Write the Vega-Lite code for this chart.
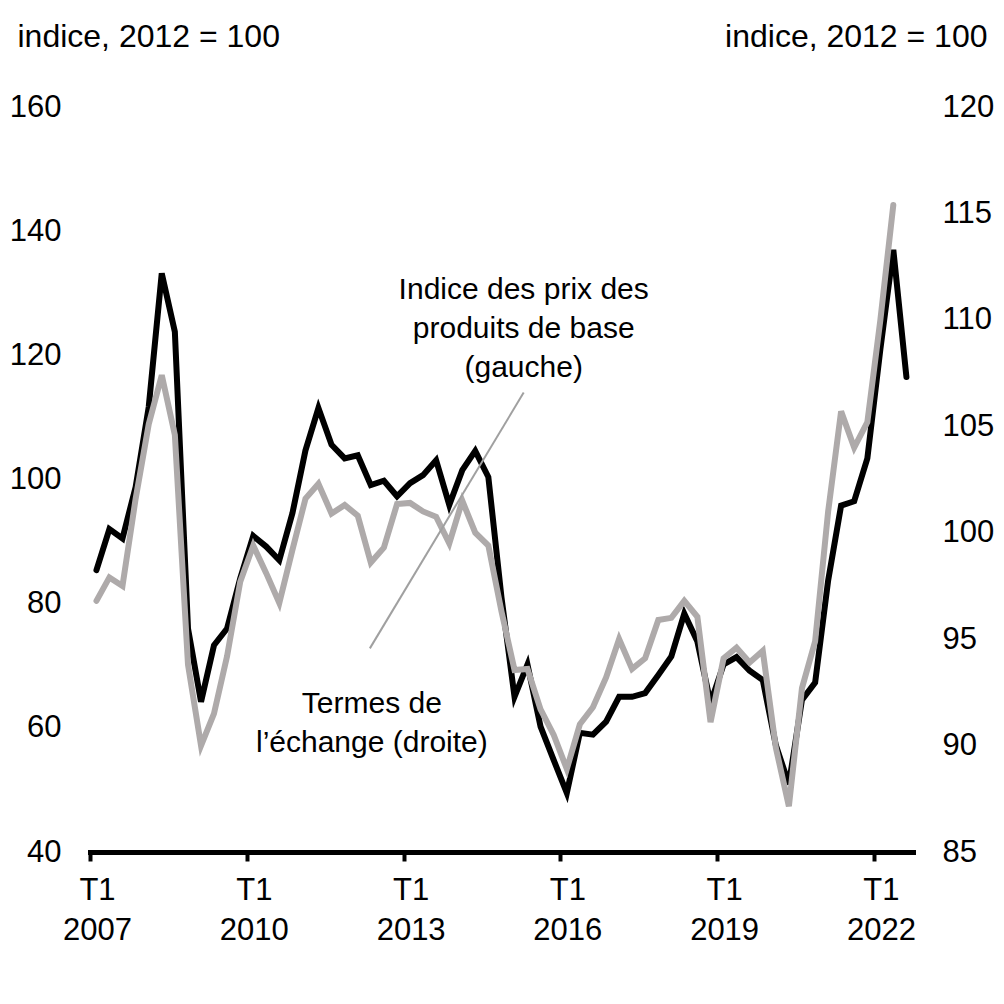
{
  "$schema": "https://vega.github.io/schema/vega-lite/v6.json",
  "width": 823,
  "height": 745,
  "autosize": "none",
  "padding": {"left": 90, "top": 107, "right": 91, "bottom": 152},
  "background": "white",
  "config": {
    "view": {"stroke": null},
    "font": "Liberation Sans",
    "axis": {"labelFont": "Liberation Sans", "titleFont": "Liberation Sans", "grid": false}
  },
  "datasets": {
    "series": [
      {"trimestre": "2007-01-01", "bcpi": 85.4, "tdt": 96.8},
      {"trimestre": "2007-04-01", "bcpi": 92.0, "tdt": 97.9},
      {"trimestre": "2007-07-01", "bcpi": 90.5, "tdt": 97.5},
      {"trimestre": "2007-10-01", "bcpi": 98.8, "tdt": 101.6},
      {"trimestre": "2008-01-01", "bcpi": 111.7, "tdt": 105.1},
      {"trimestre": "2008-04-01", "bcpi": 133.2, "tdt": 107.4},
      {"trimestre": "2008-07-01", "bcpi": 123.8, "tdt": 104.6},
      {"trimestre": "2008-10-01", "bcpi": 76.0, "tdt": 93.8},
      {"trimestre": "2009-01-01", "bcpi": 64.2, "tdt": 90.0},
      {"trimestre": "2009-04-01", "bcpi": 73.3, "tdt": 91.5},
      {"trimestre": "2009-07-01", "bcpi": 76.0, "tdt": 94.2},
      {"trimestre": "2009-10-01", "bcpi": 84.1, "tdt": 97.7},
      {"trimestre": "2010-01-01", "bcpi": 90.9, "tdt": 99.4},
      {"trimestre": "2010-04-01", "bcpi": 89.2, "tdt": 98.1},
      {"trimestre": "2010-07-01", "bcpi": 87.0, "tdt": 96.7},
      {"trimestre": "2010-10-01", "bcpi": 94.6, "tdt": 99.2},
      {"trimestre": "2011-01-01", "bcpi": 104.7, "tdt": 101.6},
      {"trimestre": "2011-04-01", "bcpi": 111.5, "tdt": 102.3},
      {"trimestre": "2011-07-01", "bcpi": 105.6, "tdt": 100.9},
      {"trimestre": "2011-10-01", "bcpi": 103.4, "tdt": 101.3},
      {"trimestre": "2012-01-01", "bcpi": 103.9, "tdt": 100.8},
      {"trimestre": "2012-04-01", "bcpi": 99.1, "tdt": 98.6},
      {"trimestre": "2012-07-01", "bcpi": 99.8, "tdt": 99.3},
      {"trimestre": "2012-10-01", "bcpi": 97.3, "tdt": 101.35},
      {"trimestre": "2013-01-01", "bcpi": 99.4, "tdt": 101.4},
      {"trimestre": "2013-04-01", "bcpi": 100.7, "tdt": 101.0},
      {"trimestre": "2013-07-01", "bcpi": 103.1, "tdt": 100.75},
      {"trimestre": "2013-10-01", "bcpi": 95.9, "tdt": 99.5},
      {"trimestre": "2014-01-01", "bcpi": 101.5, "tdt": 101.5},
      {"trimestre": "2014-04-01", "bcpi": 104.6, "tdt": 100.0},
      {"trimestre": "2014-07-01", "bcpi": 100.4, "tdt": 99.4},
      {"trimestre": "2014-10-01", "bcpi": 81.0, "tdt": 96.3},
      {"trimestre": "2015-01-01", "bcpi": 65.0, "tdt": 93.55},
      {"trimestre": "2015-04-01", "bcpi": 70.2, "tdt": 93.6},
      {"trimestre": "2015-07-01", "bcpi": 60.2, "tdt": 91.7},
      {"trimestre": "2015-10-01", "bcpi": 54.8, "tdt": 90.5},
      {"trimestre": "2016-01-01", "bcpi": 49.5, "tdt": 88.9},
      {"trimestre": "2016-04-01", "bcpi": 59.2, "tdt": 91.0},
      {"trimestre": "2016-07-01", "bcpi": 58.9, "tdt": 91.8},
      {"trimestre": "2016-10-01", "bcpi": 61.0, "tdt": 93.2},
      {"trimestre": "2017-01-01", "bcpi": 65.0, "tdt": 95.0},
      {"trimestre": "2017-04-01", "bcpi": 65.0, "tdt": 93.6},
      {"trimestre": "2017-07-01", "bcpi": 65.6, "tdt": 94.1},
      {"trimestre": "2017-10-01", "bcpi": 68.5, "tdt": 95.9},
      {"trimestre": "2018-01-01", "bcpi": 71.5, "tdt": 96.0},
      {"trimestre": "2018-04-01", "bcpi": 78.4, "tdt": 96.8},
      {"trimestre": "2018-07-01", "bcpi": 73.9, "tdt": 96.05},
      {"trimestre": "2018-10-01", "bcpi": 64.0, "tdt": 91.1},
      {"trimestre": "2019-01-01", "bcpi": 70.2, "tdt": 94.1},
      {"trimestre": "2019-04-01", "bcpi": 71.4, "tdt": 94.6},
      {"trimestre": "2019-07-01", "bcpi": 69.2, "tdt": 93.9},
      {"trimestre": "2019-10-01", "bcpi": 67.7, "tdt": 94.45},
      {"trimestre": "2020-01-01", "bcpi": 57.2, "tdt": 89.9},
      {"trimestre": "2020-04-01", "bcpi": 50.9, "tdt": 87.15},
      {"trimestre": "2020-07-01", "bcpi": 64.5, "tdt": 92.7},
      {"trimestre": "2020-10-01", "bcpi": 67.3, "tdt": 94.9},
      {"trimestre": "2021-01-01", "bcpi": 83.75, "tdt": 101.0},
      {"trimestre": "2021-04-01", "bcpi": 95.8, "tdt": 105.7},
      {"trimestre": "2021-07-01", "bcpi": 96.5, "tdt": 104.0},
      {"trimestre": "2021-10-01", "bcpi": 103.4, "tdt": 105.2},
      {"trimestre": "2022-01-01", "bcpi": 121.0, "tdt": 110.0},
      {"trimestre": "2022-04-01", "bcpi": 137.0, "tdt": 115.4},
      {"trimestre": "2022-07-01", "bcpi": 116.5, "tdt": null}
    ]
  },
  "layer": [
    {
      "data": {"name": "series"},
      "mark": {"type": "line", "color": "#000000", "strokeWidth": 6, "strokeCap": "round"},
      "encoding": {
        "x": {
          "field": "trimestre",
          "type": "temporal",
          "timeUnit": "utcyearquarter",
          "bandPosition": 0.5,
          "scale": {"type": "utc", "domain": [{"year": 2007, "month": 1, "date": 1, "utc": true}, {"year": 2022, "month": 10, "date": 1, "utc": true}]},
          "axis": {
            "title": null,
            "values": [
              {"year": 2007, "month": 1, "date": 1, "utc": true},
              {"year": 2010, "month": 1, "date": 1, "utc": true},
              {"year": 2013, "month": 1, "date": 1, "utc": true},
              {"year": 2016, "month": 1, "date": 1, "utc": true},
              {"year": 2019, "month": 1, "date": 1, "utc": true},
              {"year": 2022, "month": 1, "date": 1, "utc": true}
            ],
            "labelExpr": "['T1', utcFormat(datum.value, '%Y')]",
            "domainColor": "#000000",
            "domainWidth": 5,
            "domainCap": "square",
            "tickColor": "#000000",
            "tickWidth": 4,
            "tickSize": 9,
            "labelFontSize": 31,
            "labelColor": "#000000",
            "labelPadding": 14,
            "labelLineHeight": 40,
            "labelOffset": 7,
            "labelFlush": false,
            "labelOverlap": false,
            "labelBound": false
          }
        },
        "y": {
          "field": "bcpi",
          "type": "quantitative",
          "scale": {"domain": [40, 160], "nice": false, "zero": false},
          "axis": {
            "orient": "left",
            "values": [40, 60, 80, 100, 120, 140, 160],
            "title": "indice, 2012 = 100",
            "titleAngle": 0,
            "titleAlign": "left",
            "titleBaseline": "alphabetic",
            "titleX": -73,
            "titleY": -61,
            "titleFontSize": 32,
            "titleFontWeight": "normal",
            "titleColor": "#000000",
            "domain": false,
            "ticks": false,
            "tickSize": 0,
            "labelPadding": 29,
            "labelFontSize": 31,
            "labelColor": "#000000",
            "labelOverlap": false
          }
        }
      }
    },
    {
      "data": {"name": "series"},
      "mark": {"type": "line", "color": "#AEAAAA", "strokeWidth": 6, "strokeCap": "round"},
      "encoding": {
        "x": {
          "field": "trimestre",
          "type": "temporal",
          "timeUnit": "utcyearquarter",
          "bandPosition": 0.5,
          "axis": {"title": null}
        },
        "y": {
          "field": "tdt",
          "type": "quantitative",
          "scale": {"domain": [85, 120], "nice": false, "zero": false},
          "axis": {
            "orient": "right",
            "values": [85, 90, 95, 100, 105, 110, 115, 120],
            "title": "indice, 2012 = 100",
            "titleAngle": 0,
            "titleAlign": "right",
            "titleBaseline": "alphabetic",
            "titleX": 74,
            "titleY": -61,
            "titleFontSize": 32,
            "titleFontWeight": "normal",
            "titleColor": "#000000",
            "domain": false,
            "ticks": false,
            "tickSize": 0,
            "labelPadding": 29,
            "labelFontSize": 31,
            "labelColor": "#000000",
            "labelOverlap": false
          }
        }
      }
    },
    {
      "data": {"values": [{"debut": "2012-05-10", "fin": "2015-04-20", "bas": 72.8, "haut": 114.0}]},
      "mark": {"type": "rule", "color": "#A0A0A0", "strokeWidth": 2},
      "encoding": {
        "x": {"field": "debut", "type": "temporal", "scale": {"type": "utc"}, "axis": {"title": null}},
        "x2": {"field": "fin"},
        "y": {"field": "bas", "type": "quantitative", "scale": {"domain": [40, 160], "nice": false, "zero": false}, "axis": null},
        "y2": {"field": "haut"}
      }
    },
    {
      "data": {
        "values": [
          {"date": "2015-04-20", "niveau": 129.07, "etiquette": "Indice des prix des\nproduits de base\n(gauche)"},
          {"date": "2012-05-24", "niveau": 62.38, "etiquette": "Termes de\nl’échange (droite)"}
        ]
      },
      "mark": {"type": "text", "font": "Liberation Sans", "fontSize": 30, "align": "center", "baseline": "alphabetic", "lineBreak": "\n", "lineHeight": 39, "color": "#000000"},
      "encoding": {
        "x": {"field": "date", "type": "temporal", "scale": {"type": "utc"}, "axis": {"title": null}},
        "y": {"field": "niveau", "type": "quantitative", "scale": {"domain": [40, 160], "nice": false, "zero": false}, "axis": null},
        "text": {"field": "etiquette", "type": "nominal"}
      }
    }
  ],
  "resolve": {"scale": {"y": "independent"}}
}
